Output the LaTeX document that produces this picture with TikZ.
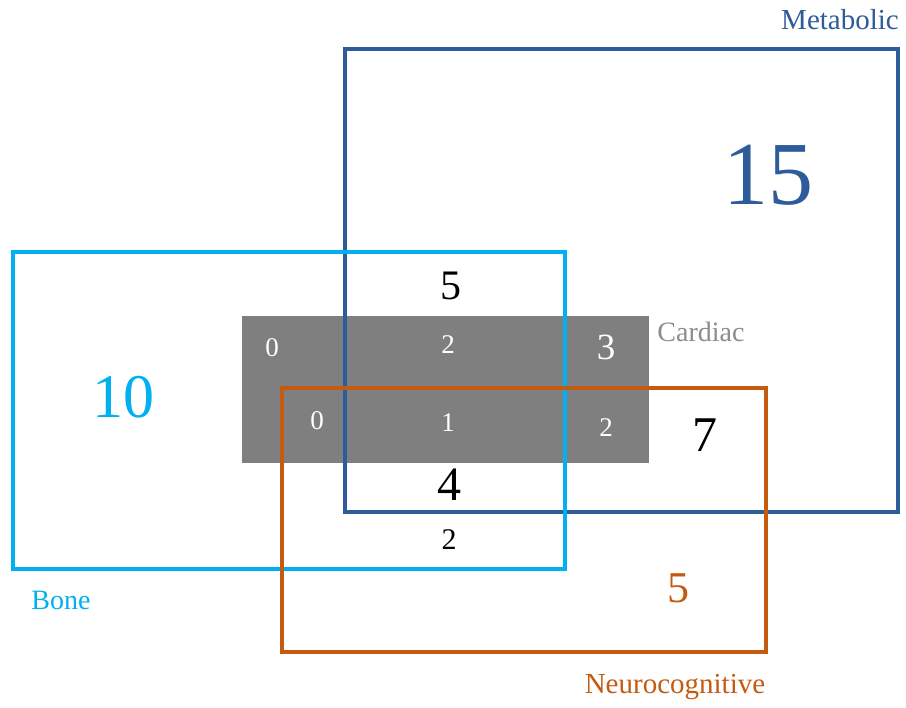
\documentclass[tikz,border=0pt]{standalone}
\usepackage{fontspec}
\setmainfont{Liberation Serif}
\definecolor{metab}{HTML}{2E5C9A}
\definecolor{bonec}{HTML}{00B0F0}
\definecolor{neuro}{HTML}{C55A11}
\definecolor{cardgray}{HTML}{7F7F7F}
\definecolor{cardtxt}{HTML}{8C8C8C}
\newcommand{\sz}[1]{\fontsize{#1}{#1}\selectfont}
\tikzset{
  setbox/.style={line width=4pt},
  num/.style={inner sep=0pt, anchor=center},
  word/.style={inner sep=0pt, anchor=base},
}
\begin{document}
\begin{tikzpicture}[x=1pt,y=-1pt]
\useasboundingbox[fill=white] (0,0) rectangle (906,708);
% Cardiac region
\fill[cardgray] (242,316) rectangle (649,463);
% Sets
\draw[setbox, draw=metab] (345,49.5) rectangle (897.5,512.5);
\draw[setbox, draw=bonec] (12.5,252.5) rectangle (565,569.5);
\draw[setbox, draw=neuro] (281.5,388.5) rectangle (765.5,652.5);
% Labels
\node[word, text=metab] (lmet) at (840,30) {\sz{29}Metabolic};
\node[word, text=cardtxt] (lcar) at (701,342) {\sz{28}Cardiac};
\node[word, text=bonec] (lbon) at (61,610) {\sz{28}Bone};
\node[word, text=neuro] (lneu) at (675,693) {\sz{29}Neurocognitive};
% Counts
\node[num, text=metab] (n15) at (768,175) {\sz{90}15};
\node[num, text=bonec] (n10) at (123.5,397) {\sz{62}10};
\node[num] (n5) at (451,286) {\sz{42}5};
\node[num, text=white] (c0a) at (272,347.5) {\sz{27}0};
\node[num, text=white] (c2a) at (448,345) {\sz{27}2};
\node[num, text=white] (c3) at (606,347) {\sz{37}3};
\node[num, text=white] (c0b) at (317,421) {\sz{27}0};
\node[num, text=white] (c1) at (448,423) {\sz{27}1};
\node[num, text=white] (c2b) at (606,428) {\sz{27}2};
\node[num] (n7) at (705,435) {\sz{50}7};
\node[num] (n4) at (449,485) {\sz{48}4};
\node[num] (n2) at (449,540) {\sz{30}2};
\node[num, text=neuro] (n5o) at (678,588) {\sz{44}5};
\end{tikzpicture}
\end{document}
